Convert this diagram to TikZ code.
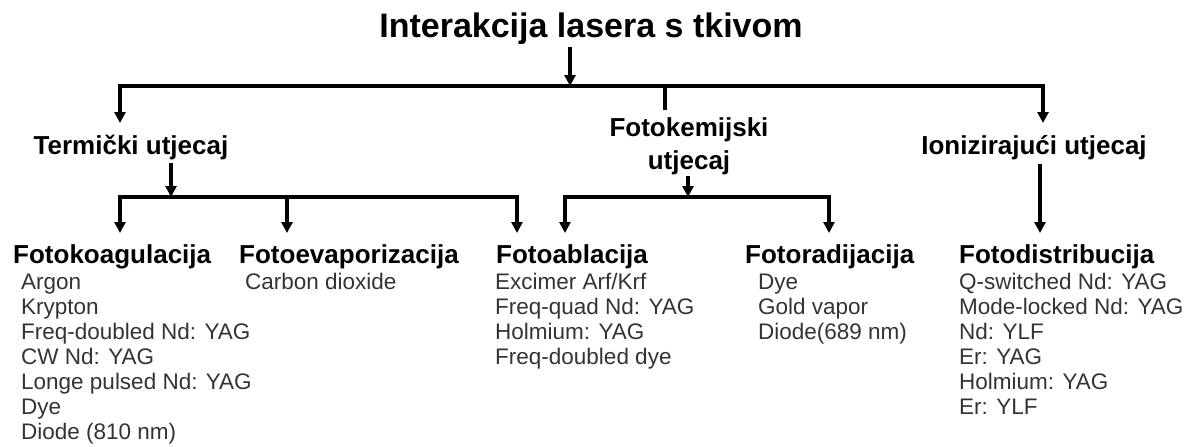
\documentclass[tikz,border=0pt]{standalone}
\usepackage{fontspec}
\setmainfont{Liberation Sans}
\usetikzlibrary{arrows.meta}
\begin{document}
\begin{tikzpicture}[x=1pt,y=-1pt,
  ln/.style={line width=3.5pt,line join=miter},
  arr/.style={ln,-{Triangle[width=11pt,length=11pt]}},
  ttl/.style={font=\bfseries\fontsize{34}{40}\selectfont,inner sep=0pt},
  sub/.style={font=\bfseries\fontsize{26}{33}\selectfont,inner sep=0pt},
  hd/.style={font=\bfseries\fontsize{26}{32}\selectfont,inner sep=0pt,anchor=base west},
  itm/.style={font=\fontsize{22.5}{25}\selectfont,text=black!80,inner sep=0pt,anchor=base west}]
\useasboundingbox (0,0) rectangle (1192,447);

% title
\node[ttl,anchor=base] (title) at (591,37) {Interakcija lasera s tkivom};

% level 1 bus
\coordinate (j0) at (570,86);
\coordinate (aT) at (120,123);
\coordinate (aI) at (1043,123);
\coordinate (k0) at (665,86);
\coordinate (k1) at (665,110);
\draw[arr,shorten <=3pt] (title.south -| j0) -- (j0);
\draw[arr] (j0) -| (aT);
\draw[arr] (j0) -| (aI);
\draw[ln] (k0) -- (k1);

% level 2
\node[sub,anchor=base] (therm) at (131,154) {Termički utjecaj};
\node[sub,align=center] (fk) at (689,146) {Fotokemijski\\utjecaj};
\node[sub,anchor=base] (ion) at (1034,154) {Ionizirajući utjecaj};

% level 2 -> 3
\coordinate (j1) at (171,197);
\coordinate (c1) at (120,233);
\coordinate (c2) at (287,233);
\coordinate (c3) at (517,233);
\draw[arr,shorten <=3pt] (therm.south -| j1) -- (j1);
\draw[arr] (j1) -| (c1);
\draw[arr] (j1) -| (c3);
\draw[arr] (j1 -| c2) -- (c2);

\coordinate (j2) at (688,197);
\coordinate (c4) at (565,233);
\coordinate (c5) at (829,233);
\draw[arr,shorten <=1pt] (fk.south -| j2) -- (j2);
\draw[arr] (j2) -| (c4);
\draw[arr] (j2) -| (c5);

\coordinate (c6) at (1040,233);
\draw[arr,shorten <=4pt] (ion.south -| c6) -- (c6);

% level 3 headings
\node[hd] (h1) at (13,263) {Fotokoagulacija};
\node[hd] (h2) at (239,263) {Fotoevaporizacija};
\node[hd] (h3) at (496,263) {Fotoablacija};
\node[hd] (h4) at (745,263) {Fotoradijacija};
\node[hd] (h5) at (959,263) {Fotodistribucija};

% items
\foreach \t [count=\i] in {Argon,Krypton,Freq-doubled Nd: YAG,CW Nd: YAG,Longe pulsed Nd: YAG,Dye,Diode (810 nm)}
  \node[itm] (pa\i) at (21,{289+(\i-1)*25.1}) {\t};
\node[itm] (pb1) at (245,289) {Carbon dioxide};
\foreach \t [count=\i] in {Excimer Arf/Krf,Freq-quad Nd: YAG,Holmium: YAG,Freq-doubled dye}
  \node[itm] (pc\i) at (495,{289+(\i-1)*25.1}) {\t};
\foreach \t [count=\i] in {Dye,Gold vapor,Diode(689 nm)}
  \node[itm] (pd\i) at (758,{289+(\i-1)*25.1}) {\t};
\foreach \t [count=\i] in {Q-switched Nd: YAG,Mode-locked Nd: YAG,Nd: YLF,Er: YAG,Holmium: YAG,Er: YLF}
  \node[itm] (pe\i) at (959,{289+(\i-1)*25.1}) {\t};
\end{tikzpicture}
\end{document}
